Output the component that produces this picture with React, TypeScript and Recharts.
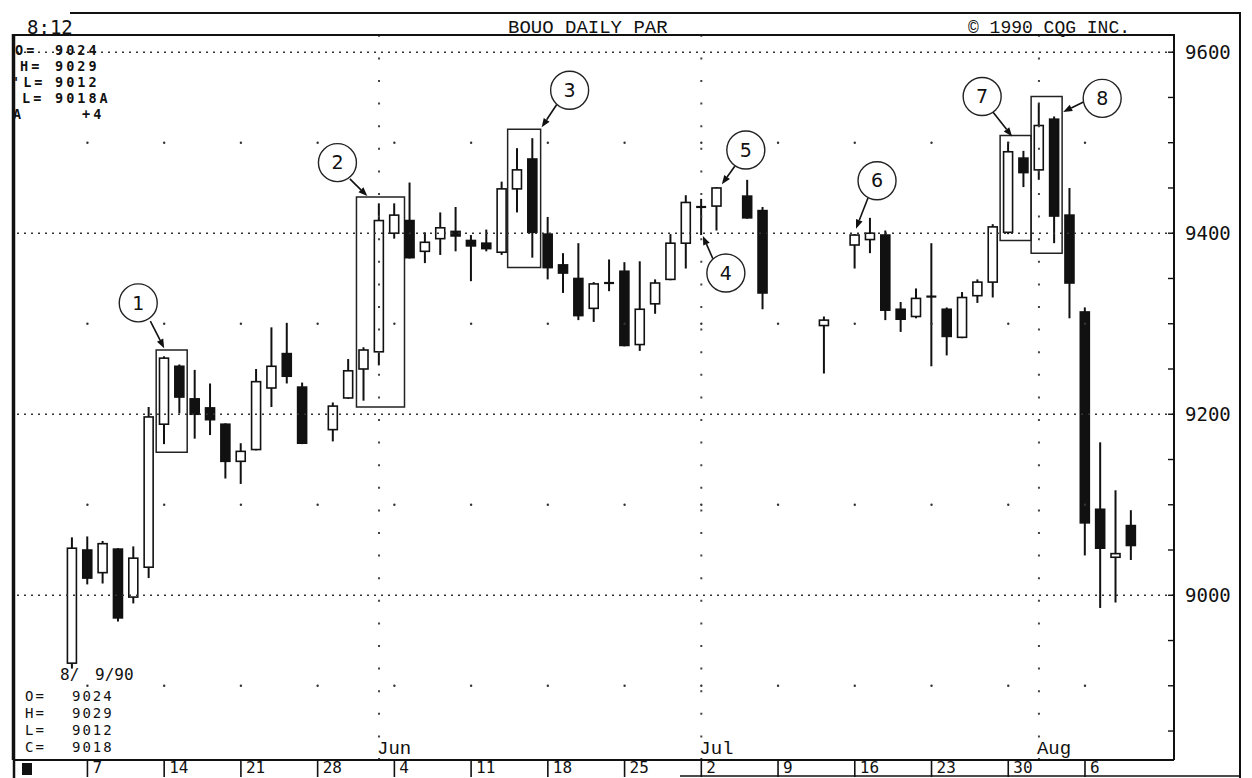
import { ComposedChart, Bar, XAxis, YAxis, ReferenceLine, ReferenceDot, ReferenceArea } from 'recharts'

// trading-day index: 0 = Fri May 4 1990, 1 = Mon May 7, ... (weekends skipped)
const days = [0, 1, 2, 3, 4, 5, 6, 7, 8, 9, 10, 11, 12, 13, 14, 15, 17, 18, 19, 20, 21, 22, 23, 24, 25, 26, 27, 28, 29, 30, 31, 32, 33, 34, 35, 36, 37, 38, 39, 40, 41, 42, 44, 45, 49, 51, 52, 53, 54, 55, 56, 57, 58, 59, 60, 61, 62, 63, 64, 65, 66, 67, 68, 69]
const opens = [8925, 9050, 9025, 9051, 8998, 9031, 9189, 9253, 9217, 9207, 9189, 9148, 9161, 9229, 9267, 9230, 9183, 9218, 9250, 9269, 9400, 9414, 9380, 9394, 9402, 9392, 9389, 9379, 9449, 9482, 9399, 9365, 9350, 9317, 9345, 9358, 9277, 9322, 9349, 9389, 9429, 9430, 9441, 9425, 9298, 9387, 9393, 9398, 9316, 9308, 9330, 9316, 9285, 9331, 9346, 9401, 9483, 9470, 9526, 9420, 9313, 9095, 9042, 9077]
const highs = [9064, 9065, 9060, 9052, 9054, 9208, 9264, 9255, 9249, 9234, 9190, 9168, 9250, 9296, 9301, 9235, 9213, 9261, 9274, 9433, 9433, 9456, 9401, 9423, 9429, 9398, 9404, 9457, 9494, 9505, 9418, 9378, 9389, 9346, 9371, 9368, 9369, 9349, 9399, 9442, 9438, 9451, 9459, 9429, 9308, 9399, 9417, 9403, 9324, 9339, 9389, 9318, 9335, 9349, 9410, 9501, 9491, 9544, 9529, 9450, 9318, 9169, 9116, 9094]
const lows = [8919, 9012, 9013, 8971, 8991, 9019, 9167, 9201, 9173, 9177, 9129, 9123, 9160, 9208, 9234, 9167, 9170, 9217, 9215, 9254, 9394, 9372, 9367, 9376, 9380, 9347, 9380, 9376, 9423, 9373, 9349, 9334, 9304, 9302, 9336, 9275, 9270, 9311, 9348, 9361, 9398, 9403, 9416, 9316, 9245, 9361, 9378, 9304, 9291, 9306, 9253, 9265, 9284, 9323, 9329, 9399, 9451, 9459, 9389, 9306, 9044, 8986, 8992, 9039]
const closes = [9052, 9019, 9057, 8975, 9041, 9197, 9262, 9219, 9200, 9194, 9148, 9159, 9236, 9253, 9242, 9168, 9209, 9248, 9271, 9414, 9420, 9373, 9390, 9406, 9397, 9386, 9383, 9449, 9470, 9401, 9362, 9356, 9309, 9344, 9345, 9276, 9316, 9345, 9389, 9434, 9429, 9450, 9417, 9334, 9304, 9398, 9400, 9315, 9305, 9328, 9330, 9286, 9329, 9346, 9407, 9490, 9467, 9519, 9419, 9345, 9080, 9052, 9046, 9055]

const weekDays = [1, 6, 11, 16, 21, 26, 31, 36, 41, 46, 51, 56, 61, 66]
const weekLabels = ['7', '14', '21', '28', '4', '11', '18', '25', '2', '9', '16', '23', '30', '6']
const monthDays = [20, 41, 63]
const monthLabels = ['Jun', 'Jul', 'Aug']
const priceTicks = [8850, 8900, 8950, 9000, 9050, 9100, 9150, 9200, 9250, 9300, 9350, 9400, 9450, 9500, 9550, 9600]
const gridPrices = [9000, 9200, 9400, 9600]
const dotPrices = [8900, 9100, 9300, 9500]

// numbered call-outs, boxes and arrows (in day / price units)
const circles = [
  { n: '1', d: 4.31, p: 9323 },
  { n: '2', d: 17.29, p: 9478 },
  { n: '3', d: 32.42, p: 9558 },
  { n: '4', d: 42.6, p: 9356 },
  { n: '5', d: 43.9, p: 9492 },
  { n: '6', d: 52.45, p: 9458 },
  { n: '7', d: 59.3, p: 9551 },
  { n: '8', d: 67.12, p: 9549 },
]
const arrows = [
  { d1: 5.1, p1: 9303, d2: 6.0, p2: 9273 },
  { d1: 18.1, p1: 9460, d2: 19.24, p2: 9441 },
  { d1: 31.57, p1: 9542, d2: 30.6, p2: 9517 },
  { d1: 41.75, p1: 9372, d2: 41.1, p2: 9397 },
  { d1: 43.18, p1: 9474, d2: 42.34, p2: 9454 },
  { d1: 51.86, p1: 9439, d2: 51.08, p2: 9405 },
  { d1: 60.0, p1: 9534, d2: 61.25, p2: 9507 },
  { d1: 65.9, p1: 9545, d2: 64.58, p2: 9534 },
]
const boxes = [
  { d1: 5.48, d2: 7.5, p1: 9158, p2: 9271 },
  { d1: 18.53, d2: 21.66, p1: 9208, p2: 9440 },
  { d1: 28.38, d2: 30.53, p1: 9362, p2: 9515 },
  { d1: 60.47, d2: 62.49, p1: 9392, p2: 9508 },
  { d1: 62.49, d2: 64.51, p1: 9378, p2: 9551 },
]

const rows = days.map((d, i) => ({
  d,
  open: opens[i],
  high: highs[i],
  low: lows[i],
  close: closes[i],
  range: [lows[i], highs[i]],
}))

const INK = '#111'
const MONO = "'DejaVu Sans Mono', monospace"
const COURIER = "'Liberation Mono', monospace"

function Candle(props: any) {
  const { x, y, width, height, payload } = props
  const { open, close, high, low } = payload
  const cx = x + width / 2
  const top = Math.min(y, y + height)
  const bot = Math.max(y, y + height)
  const k = high === low ? 0 : (bot - top) / (high - low)
  const py = (v: number) => top + (high - v) * k
  const bTop = py(Math.max(open, close))
  const bBot = py(Math.min(open, close))
  const up = close >= open
  return (
    <g>
      <line x1={cx} x2={cx} y1={top} y2={bot} stroke={INK} strokeWidth={2} />
      {bBot - bTop < 1.5 ? (
        <line x1={cx - 5} x2={cx + 5} y1={bTop} y2={bTop} stroke={INK} strokeWidth={2.2} />
      ) : (
        <rect x={cx - 4.5} y={bTop} width={9} height={bBot - bTop} fill={up ? '#fff' : INK} stroke={INK} strokeWidth={1.6} />
      )}
    </g>
  )
}

function ArrowLine(props: any) {
  const { x1, y1, x2, y2 } = props
  const a = Math.atan2(y2 - y1, x2 - x1)
  const L = 9
  const W = 3.5
  const bx = x2 - L * Math.cos(a)
  const by = y2 - L * Math.sin(a)
  const pts = `${x2},${y2} ${bx - W * Math.sin(a)},${by + W * Math.cos(a)} ${bx + W * Math.sin(a)},${by - W * Math.cos(a)}`
  return (
    <g>
      <line x1={x1} y1={y1} x2={bx} y2={by} stroke={INK} strokeWidth={1.6} />
      <polygon points={pts} fill={INK} />
    </g>
  )
}

function WeekTick(props: any) {
  const { x, y, payload } = props
  const label = weekLabels[weekDays.indexOf(payload.value)]
  return (
    <g>
      <line x1={x} x2={x} y1={y} y2={y + 17} stroke={INK} strokeWidth={1.6} />
      <text x={x + 5} y={y + 13} fontSize={16} fontFamily={MONO} fill={INK}>{label}</text>
    </g>
  )
}

function PriceTick(props: any) {
  const { x, y, payload } = props
  const v = payload.value
  return (
    <g>
      <line x1={x - 6} x2={x} y1={y} y2={y} stroke={INK} strokeWidth={1.4} />
      {v % 200 === 0 && (
        <text x={x + 11} y={y + 7} fontSize={19} fontFamily={MONO} fill={INK}>{v}</text>
      )}
    </g>
  )
}

export default function App() {
  return (
    <div style={{ position: 'relative', width: 1244, height: 770, background: '#fff', fontFamily: MONO }}>
      <div style={{ position: 'absolute', left: 0, top: 0 }}>
        <ComposedChart width={1244} height={770} data={rows} margin={{ top: 8, right: 0, bottom: 0, left: 5 }}>
          <XAxis
            dataKey="d"
            type="number"
            domain={[-3.85, 71.8]}
            allowDataOverflow
            ticks={weekDays}
            interval={0}
            height={18}
            tickLine={false}
            tickSize={0}
            tickMargin={0}
            axisLine={{ stroke: INK, strokeWidth: 2 }}
            tick={<WeekTick />}
          />
          <YAxis
            yAxisId="l"
            orientation="left"
            width={1}
            type="number"
            domain={[8818, 9640]}
            allowDataOverflow
            ticks={priceTicks}
            tick={false}
            mirror
            tickSize={6}
            tickLine={{ stroke: INK, strokeWidth: 1.4 }}
            axisLine={{ stroke: INK, strokeWidth: 2.5 }}
          />
          <YAxis
            orientation="right"
            width={78}
            type="number"
            domain={[8818, 9640]}
            allowDataOverflow
            ticks={priceTicks}
            interval={0}
            tickLine={false}
            tickSize={0}
            tickMargin={0}
            axisLine={{ stroke: INK, strokeWidth: 2 }}
            tick={<PriceTick />}
          />

          {gridPrices.map(p => (
            <ReferenceLine key={'g' + p} y={p} stroke="#333" strokeWidth={1.5} strokeDasharray="2 5" />
          ))}
          {monthDays.map((d, i) => (
            <ReferenceLine
              key={'m' + d}
              x={d}
              stroke="#444"
              strokeWidth={2}
              strokeDasharray="2 20.6"
              label={{
                content: (lp: any) => (
                  <text x={lp.viewBox.x - 2} y={lp.viewBox.y + lp.viewBox.height - 6} fontSize={19} fontFamily={COURIER} fill={INK}>
                    {monthLabels[i]}
                  </text>
                ),
              }}
            />
          ))}
          {weekDays.flatMap(d =>
            dotPrices.map(p => <ReferenceDot key={`w${d}-${p}`} x={d} y={p} r={1.2} fill="#333" stroke="none" />)
          )}

          {boxes.map((b, i) => (
            <ReferenceArea key={'b' + i} x1={b.d1} x2={b.d2} y1={b.p1} y2={b.p2} fill="none" fillOpacity={0} stroke="#222" strokeWidth={1.5} />
          ))}

          <Bar dataKey="range" barSize={9} shape={<Candle />} isAnimationActive={false} />

          {arrows.map((a, i) => (
            <ReferenceLine
              key={'a' + i}
              segment={[{ x: a.d1, y: a.p1 }, { x: a.d2, y: a.p2 }]}
              stroke={INK}
              shape={<ArrowLine />}
            />
          ))}
          {circles.map(c => (
            <ReferenceDot
              key={'c' + c.n}
              x={c.d}
              y={c.p}
              r={19}
              fill="#fff"
              stroke="#222"
              strokeWidth={1.4}
              label={{ value: c.n, position: 'center', fontSize: 19, fontFamily: "'DejaVu Sans', sans-serif", fill: INK }}
            />
          ))}
        </ComposedChart>
      </div>

      <svg width={1244} height={770} style={{ position: 'absolute', left: 0, top: 0, pointerEvents: 'none' }}>
        <rect x={0} y={0} width={1231} height={26} fill="#fff" />
        <line x1={62} x2={1233} y1={5} y2={5} stroke={INK} strokeWidth={2} />
        <line x1={4} x2={1167} y1={27} y2={27} stroke={INK} strokeWidth={2} />
        <line x1={1232} x2={1232} y1={5} y2={770} stroke={INK} strokeWidth={2} />
        <line x1={6} x2={6} y1={27} y2={770} stroke={INK} strokeWidth={2.5} />
        <line x1={672} x2={1232} y1={768} y2={768} stroke={INK} strokeWidth={1.5} />
        <rect x={14} y={755} width={10} height={12} fill={INK} />

        <text x={19} y={26} fontSize={19} fontFamily={MONO} fill={INK}>8:12</text>
        <text x={500} y={25} fontSize={19} fontFamily={COURIER} fill={INK}>BOUO DAILY PAR</text>
        <text x={960} y={25} fontSize={18} fontFamily={COURIER} fill={INK}>© 1990 CQG INC.</text>

        <g fontSize={13.5} fontFamily={MONO} fill={INK} fontWeight="bold" letterSpacing={3}>
          <text x={7} y={47}>O=</text>
          <text x={47} y={47}>9024</text>
          <text x={12} y={63}>H=</text>
          <text x={47} y={63}>9029</text>
          <text x={4} y={79}>'L=</text>
          <text x={47} y={79}>9012</text>
          <text x={14} y={95}>L=</text>
          <text x={47} y={95}>9018A</text>
          <text x={5} y={111}>A</text>
          <text x={74} y={111}>+4</text>
        </g>

        <g fontSize={16} fontFamily={MONO} fill={INK}>
          <text x={52} y={672}>8/</text>
          <text x={87} y={672}>9/90</text>
        </g>
        <g fontSize={14} fontFamily={MONO} fill={INK} letterSpacing={2}>
          <text x={17} y={693}>O=</text>
          <text x={64} y={693}>9024</text>
          <text x={17} y={710}>H=</text>
          <text x={64} y={710}>9029</text>
          <text x={17} y={727}>L=</text>
          <text x={64} y={727}>9012</text>
          <text x={17} y={744}>C=</text>
          <text x={64} y={744}>9018</text>
        </g>
      </svg>
    </div>
  )
}
